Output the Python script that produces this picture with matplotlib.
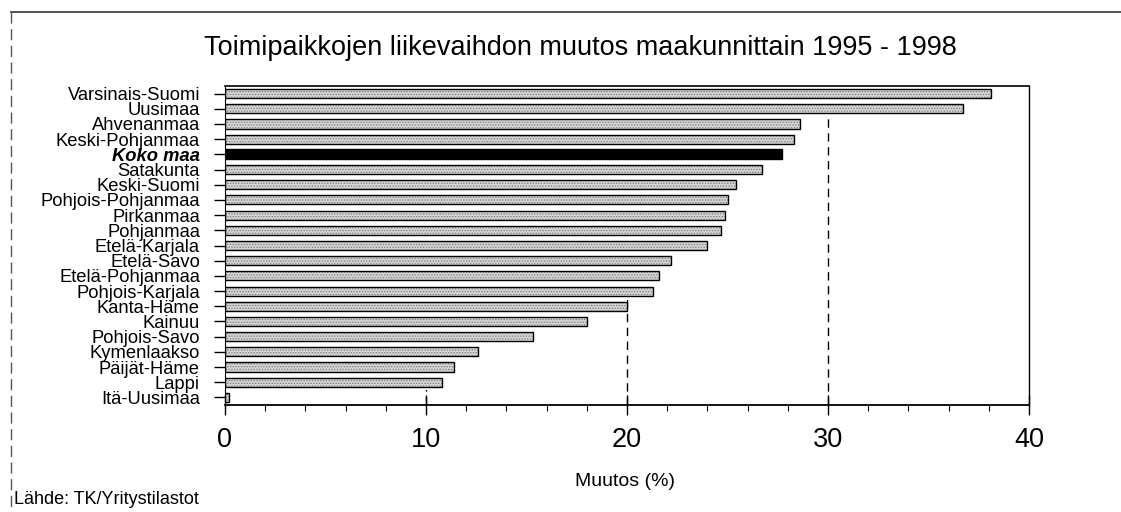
import matplotlib
matplotlib.use("Agg")
import matplotlib.pyplot as plt
from matplotlib.lines import Line2D
from matplotlib.ticker import MultipleLocator

plt.rcParams['font.family'] = ['Liberation Sans', 'DejaVu Sans']
plt.rcParams['hatch.linewidth'] = 0.6

regions = ["Varsinais-Suomi", "Uusimaa", "Ahvenanmaa", "Keski-Pohjanmaa", "Koko maa",
           "Satakunta", "Keski-Suomi", "Pohjois-Pohjanmaa", "Pirkanmaa", "Pohjanmaa",
           "Etelä-Karjala", "Etelä-Savo", "Etelä-Pohjanmaa", "Pohjois-Karjala",
           "Kanta-Häme", "Kainuu", "Pohjois-Savo", "Kymenlaakso", "Päijät-Häme",
           "Lappi", "Itä-Uusimaa"]
values = [38.1, 36.7, 28.6, 28.3, 27.7, 26.7, 25.4, 25.0, 24.9, 24.7, 24.0, 22.2,
          21.6, 21.3, 20.0, 18.0, 15.3, 12.6, 11.4, 10.8, 0.2]
highlight = "Koko maa"
xticks = [0, 10, 20, 30, 40]

title = "Toimipaikkojen liikevaihdon muutos maakunnittain 1995 - 1998"
xlabel = "Muutos (%)"
source = "Lähde: TK/Yritystilastot"

fig = plt.figure(figsize=(11.21, 5.12), dpi=100)
ax = fig.add_axes([225/1121, 1-405/512, 804/1121, 319/512])

ypos = list(range(len(regions)))
normal_idx = [i for i, r in enumerate(regions) if r != highlight]
hl_idx = [i for i, r in enumerate(regions) if r == highlight]

# white bands hide the grid behind each bar's row, as in the original
ax.barh(ypos, values, height=1.0, color='white', linewidth=0, zorder=1.5)
ax.barh([ypos[i] for i in normal_idx], [values[i] for i in normal_idx], height=0.6,
        facecolor='#d4d4d4', edgecolor='#7a7a7a', hatch='......', linewidth=0, zorder=2)
ax.barh([ypos[i] for i in normal_idx], [values[i] for i in normal_idx], height=0.6,
        fill=False, edgecolor='black', linewidth=1.0, zorder=3)
ax.barh([ypos[i] for i in hl_idx], [values[i] for i in hl_idx], height=0.65,
        color='black', edgecolor='black', linewidth=1.0, zorder=3)

ax.set_xlim(0, 40)
ax.set_ylim(len(regions) - 0.5, -0.5)
ax.set_yticks(ypos)
ax.set_yticklabels(regions, fontsize=13.2)
for lbl in ax.get_yticklabels():
    if lbl.get_text() == highlight:
        lbl.set_fontweight('bold')
        lbl.set_fontstyle('italic')

ax.set_xticks(xticks)
ax.set_xticklabels([str(t) for t in xticks], fontsize=19.5)
ax.xaxis.set_minor_locator(MultipleLocator(2))
ax.tick_params(axis='x', which='major', direction='inout', length=14, width=1, pad=9)
ax.tick_params(axis='x', which='minor', direction='out', length=4, width=0.8)
ax.tick_params(axis='y', which='major', direction='out', length=8, width=1, pad=10)

for x in xticks[1:-1]:
    ax.axvline(x, color='black', linestyle=(0, (6, 4)), linewidth=1, zorder=1)

for s in ['top', 'right', 'bottom', 'left']:
    ax.spines[s].set_color('black')
ax.spines['bottom'].set_linewidth(1.3)
ax.spines['top'].set_linewidth(1.2)
ax.spines['right'].set_linewidth(1.0)
ax.spines['left'].set_linewidth(0.8)

fig.text(0.518, 1-48/512, title, fontsize=19.5, ha='center', va='center')
fig.text(625/1121, 1-482/512, xlabel, fontsize=14, ha='center', va='center')
fig.text(14/1121, 1-500/512, source, fontsize=13, ha='left', va='center')

# outer frame
fig.add_artist(Line2D([11/1121, 1.0], [1-12/512, 1-12/512], transform=fig.transFigure,
                      color='#333333', linewidth=1.2))
fig.add_artist(Line2D([11/1121, 11/1121], [1-12/512, 0.0], transform=fig.transFigure,
                      color='#555555', linewidth=1.0, linestyle=(0, (8, 4))))

fig.savefig("out.png", dpi=100)
